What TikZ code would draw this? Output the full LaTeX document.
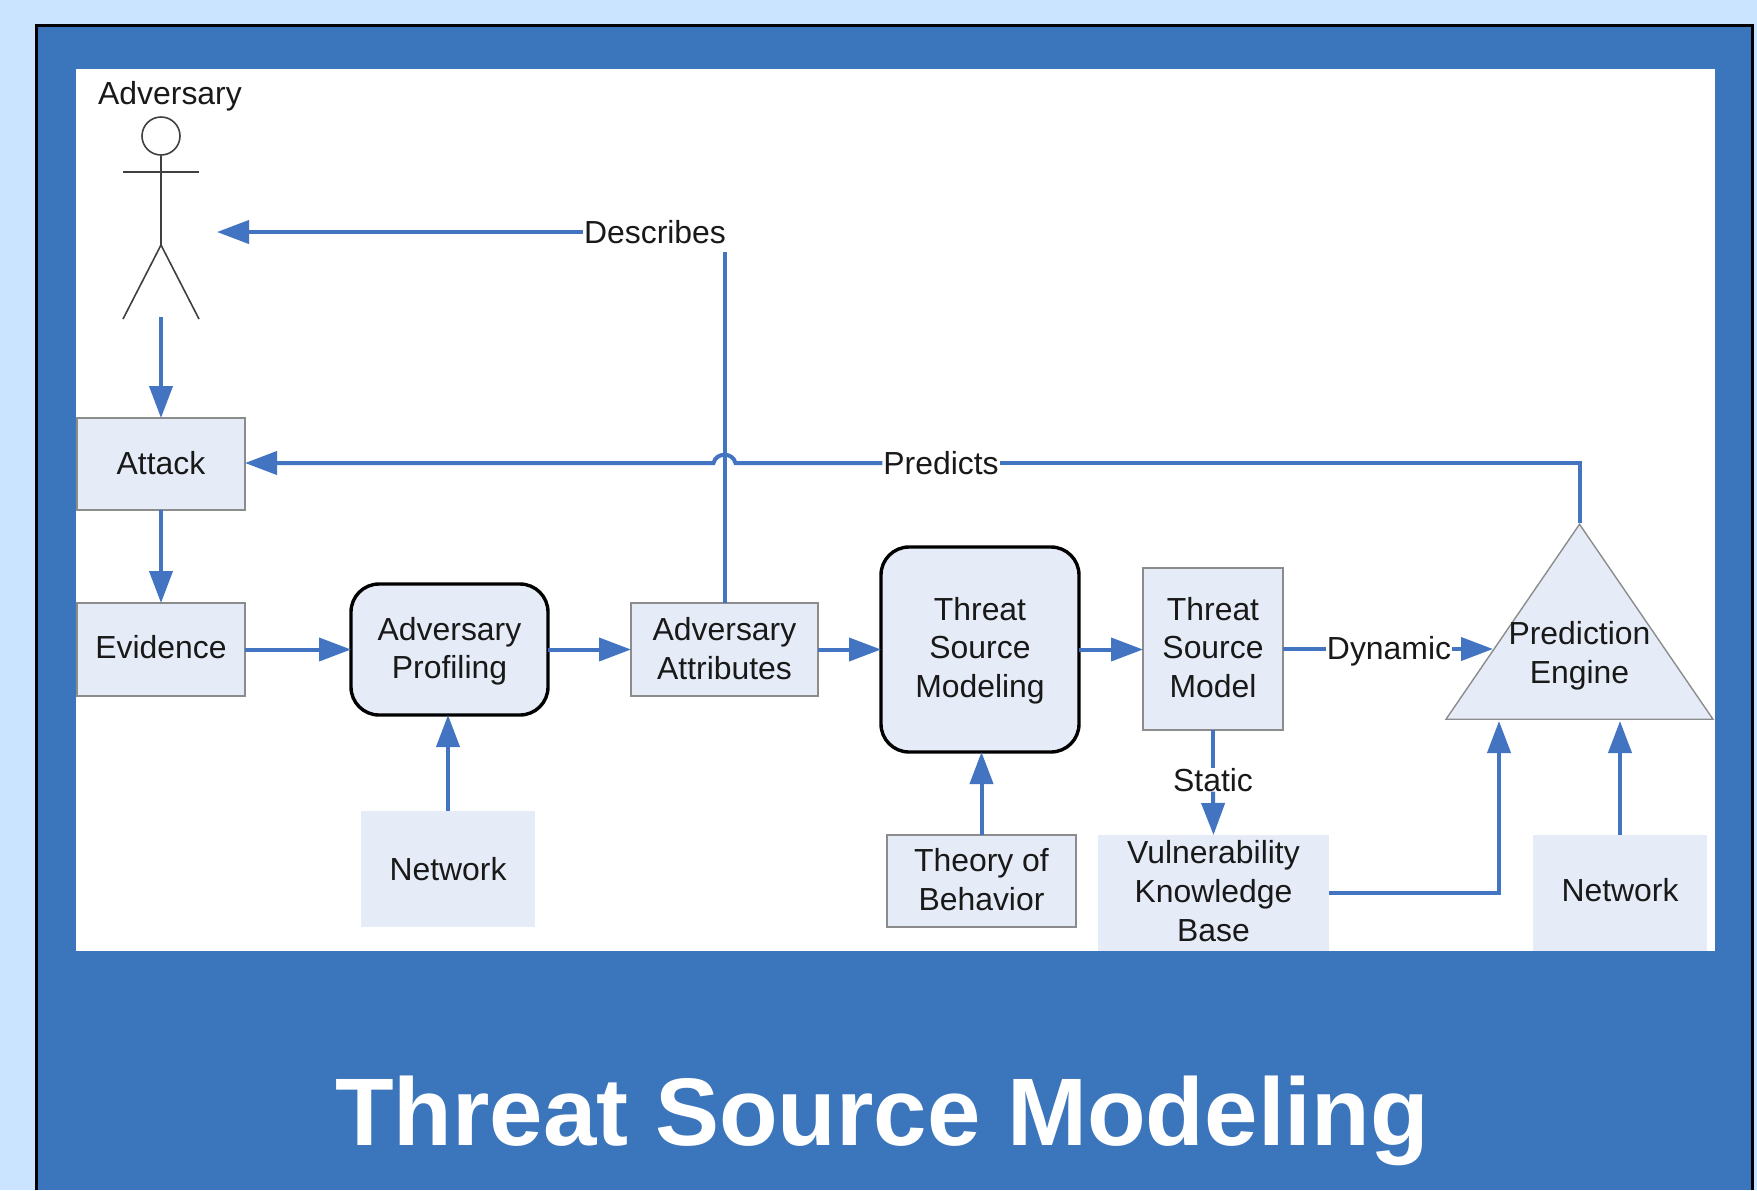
\documentclass[tikz,border=0pt]{standalone}
\usepackage{fontspec}
\setmainfont{Liberation Sans}
\usetikzlibrary{arrows.meta,shapes.geometric}
\definecolor{pagebg}{HTML}{CAE4FF}
\definecolor{panelblue}{HTML}{3B75BB}
\definecolor{linkblue}{HTML}{4274C1}
\definecolor{boxfill}{HTML}{E6ECF7}
\definecolor{boxedge}{HTML}{8C8C8C}
\definecolor{stickgray}{HTML}{404040}
\newcommand\nudged[2]{\raisebox{#1}[\height][\depth]{\begin{tabular}{@{}c@{}}#2\end{tabular}}}
\tikzset{
  lbl/.style={font=\fontsize{15.95}{19.3}\selectfont,text=black!90,align=center,inner sep=0pt,outer sep=0pt},
  plainbox/.style={lbl,fill=boxfill,minimum width=#1},
  edgebox/.style={lbl,fill=boxfill,draw=boxedge,line width=0.7pt,minimum width=#1},
  thickbox/.style={lbl,fill=boxfill,draw=black,line width=1.7pt,rounded corners=14pt,minimum width=#1},
  linklabel/.style={lbl,fill=white,inner xsep=0.5pt},
  link/.style={draw=linkblue,line width=2pt},
  arrowlink/.style={link,-{Triangle[length=16pt,width=11.5pt]}},
  stick/.style={draw=stickgray,line width=0.8pt},
}
\begin{document}
\begin{tikzpicture}[x=0.5pt,y=-0.5pt]
\useasboundingbox (0,0) rectangle (1757,1190);
\fill[pagebg] (0,0) rectangle (1757,1190);
\fill[panelblue] (36,25) rectangle (1752,1190);
\draw[black,line width=1.5pt] (36,1190) -- (36,25) -- (1752,25) -- (1752,1190);
\fill[white] (76,69) rectangle (1715,951);

% actor
\node[lbl] (advlabel) at (170,96.5) {Adversary};
\node[circle,stick,minimum size=19pt,inner sep=0pt] (head) at (161,136) {};
\coordinate (armL) at (123,172);
\coordinate (armR) at (199,172);
\coordinate (hip) at (161,245);
\coordinate (legL) at (123,319);
\coordinate (legR) at (199,319);
\draw[stick] (head.south) -- (hip);
\draw[stick] (armL) -- (armR);
\draw[stick] (legL) -- (hip) -- (legR);

% boxes
\node[edgebox=84pt,minimum height=46pt] (attack) at (161,464) {\nudged{-1.2pt}{Attack}};
\node[edgebox=84pt,minimum height=46.5pt] (evidence) at (161,649.5) {\nudged{-0.6pt}{Evidence}};
\node[thickbox=98.5pt,minimum height=65.5pt] (profiling) at (449.5,649.5) {\nudged{-1.1pt}{Adversary\\Profiling}};
\node[edgebox=93.5pt,minimum height=46.5pt] (attributes) at (724.5,649.5) {\nudged{-1.5pt}{Adversary\\Attributes}};
\node[thickbox=99pt,minimum height=102.5pt] (modeling) at (980,649.5) {\nudged{-0.7pt}{Threat\\Source\\Modeling}};
\node[edgebox=70pt,minimum height=81pt] (model) at (1213,649) {\nudged{-1.1pt}{Threat\\Source\\Model}};
\node[plainbox=87pt,minimum height=58pt] (netA) at (448,869) {\nudged{-1.7pt}{Network}};
\node[edgebox=94.5pt,minimum height=46pt] (theory) at (981.5,881) {\nudged{-1.1pt}{Theory of\\Behavior}};
\node[plainbox=115.5pt,minimum height=58pt] (vuln) at (1213.5,893) {\nudged{-0.9pt}{Vulnerability\\Knowledge\\Base}};
\node[plainbox=87pt,minimum height=58pt] (netB) at (1620,893) {\nudged{-0.6pt}{Network}};

% prediction engine
\node[isosceles triangle,isosceles triangle apex angle=68.5,isosceles triangle stretches,
  shape border rotate=90,draw=boxedge,line width=0.7pt,fill=boxfill,inner sep=0pt,
  minimum width=133.5pt,minimum height=97.5pt,anchor=apex] (engine) at (1579.5,523) {};
\node[lbl] (enginetext) at (1579.5,655.5) {Prediction\\Engine};

% connector labels
\node[linklabel] (describes) at (655,232) {Describes};
\node[linklabel] (predicts) at (941,463) {Predicts};
\node[linklabel] (dynamic) at (1389,649) {\nudged{-1.6pt}{Dynamic}};
\node[linklabel] (static) at (1213,780) {Static};

\coordinate (actorfoot) at (161,317);
\coordinate (actortip) at (217,232);
\coordinate (descturn) at (724.5,252);
\coordinate (crossing) at (724.5,463);
\coordinate (dyntip) at (1493,649);
\coordinate (vulntip) at (1499,721);
\coordinate (nettip) at (1620,721);

% connectors
\draw[arrowlink] (actorfoot) -- (attack.north);
\draw[arrowlink] (attack.south) -- (evidence.north);
\draw[arrowlink] (evidence.east) -- (profiling.west);
\draw[arrowlink] (profiling.east) -- (attributes.west);
\draw[arrowlink] (attributes.east) -- (modeling.west);
\draw[arrowlink] (modeling.east) -- (modeling.east -| model.west);
\draw[arrowlink] (netA.north) -- (netA.north |- profiling.south);
\draw[arrowlink] (theory.north) -- (theory.north |- modeling.south);
\draw[arrowlink] (describes.west) -- (actortip);
\draw[link] (attributes.north) -- (descturn);
\draw[link] (engine.apex) -- (engine.apex |- predicts.east) -- (predicts.east);
\draw[arrowlink] (predicts.west) -- ([xshift=5.5pt]crossing)
  .. controls ([xshift=4.2pt,yshift=5.5pt]crossing) and ([xshift=-4.2pt,yshift=5.5pt]crossing)
  .. ([xshift=-5.5pt]crossing) -- (crossing -| attack.east);
\draw[link] (model.east) -- (dynamic.west);
\draw[arrowlink] (dynamic.east) -- (dyntip);
\draw[link] (model.south) -- (static.north);
\draw[arrowlink] (static.south) -- (vuln.north);
\draw[arrowlink] (vuln.east) -| (vulntip);
\draw[arrowlink] (netB.north) -- (nettip);

\node[font=\fontsize{48}{56}\selectfont\bfseries,text=white,inner sep=0pt,anchor=base] (title) at (882,1145) {Threat Source Modeling};
\end{tikzpicture}
\end{document}
